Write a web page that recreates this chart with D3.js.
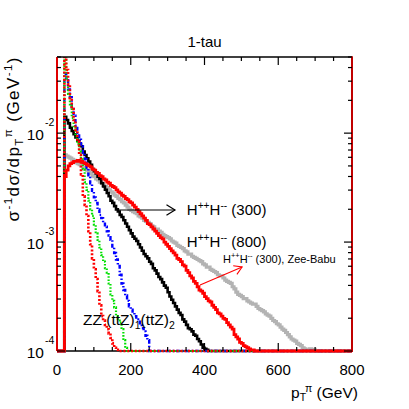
<!DOCTYPE html>
<html><head><meta charset="utf-8">
<script src="https://cdn.jsdelivr.net/npm/d3@7"></script>
<style>
body{margin:0;background:#fff}
svg{display:block}
text{font-family:"Liberation Sans",Arial,Helvetica,sans-serif;fill:#000}
</style>
</head><body><div id="chart"></div>
<script>
// ---------- DATA: log10 of (1/sigma dsigma/dpT) in GeV^-1, histogram bins ----------
const xTicksMajor = [0, 200, 400, 600, 800];
const yTickExps = [-4, -3, -2];

// H++H-- (300), black, 5 GeV bins from 20 GeV
const blackStart = 20, blackWidth = 5;
const blackLog10 = [
 -1.85,-1.88,-1.91,-1.95,-1.98,-2.01,-2.04,-2.07,-2.10,-2.12,
 -2.17,-2.20,-2.23,-2.26,-2.29,-2.33,-2.35,-2.37,-2.40,-2.42,
 -2.46,-2.49,-2.52,-2.55,-2.58,-2.62,-2.64,-2.67,-2.70,-2.72,
 -2.75,-2.77,-2.80,-2.83,-2.86,-2.89,-2.92,-2.95,-2.97,-2.99,
 -3.02,-3.05,-3.08,-3.11,-3.13,-3.15,-3.18,-3.20,-3.24,-3.26,
 -3.29,-3.32,-3.34,-3.37,-3.40,-3.42,-3.46,-3.50,-3.53,-3.56,
 -3.59,-3.62,-3.65,-3.67,-3.71,-3.73,-3.76,-3.79,-3.80,-3.82,
 -3.85,-3.86,-3.89,-3.91,-3.94,-3.97,-3.98,-3.99];

// H++H-- (300), Zee-Babu, red solid
const redStart = 20, redWidth = 5;
const redLog10 = [
 -2.40,-2.34,-2.30,-2.28,-2.27,-2.26,-2.26,-2.25,-2.26,-2.26,
 -2.27,-2.28,-2.29,-2.30,-2.31,-2.33,-2.34,-2.36,-2.37,-2.39,
 -2.40,-2.42,-2.43,-2.45,-2.46,-2.48,-2.49,-2.50,-2.52,-2.54,
 -2.55,-2.57,-2.58,-2.60,-2.61,-2.63,-2.64,-2.66,-2.68,-2.70,
 -2.72,-2.74,-2.76,-2.78,-2.80,-2.83,-2.84,-2.86,-2.88,-2.90,
 -2.92,-2.94,-2.96,-2.97,-3.00,-3.02,-3.04,-3.06,-3.08,-3.10,
 -3.12,-3.15,-3.16,-3.18,-3.21,-3.22,-3.26,-3.28,-3.31,-3.33,
 -3.36,-3.38,-3.41,-3.44,-3.45,-3.47,-3.50,-3.52,-3.54,-3.55,
 -3.58,-3.60,-3.62,-3.65,-3.66,-3.68,-3.70,-3.71,-3.74,-3.76,
 -3.78,-3.80,-3.85,-3.87,-3.89,-3.92,-3.93,-3.95,-3.96,-3.97,
 -3.98,-3.99,-3.99];

// H++H-- (800), gray
const grayStart = 20, grayWidth = 5;
const grayLog10 = [
 -2.20,-2.21,-2.22,-2.23,-2.24,-2.25,-2.27,-2.28,-2.29,-2.30,
 -2.31,-2.33,-2.34,-2.36,-2.37,-2.39,-2.40,-2.42,-2.43,-2.45,
 -2.46,-2.48,-2.49,-2.50,-2.52,-2.54,-2.55,-2.57,-2.58,-2.60,
 -2.61,-2.63,-2.64,-2.66,-2.68,-2.70,-2.71,-2.72,-2.73,-2.74,
 -2.76,-2.77,-2.78,-2.80,-2.81,-2.82,-2.83,-2.85,-2.86,-2.88,
 -2.88,-2.90,-2.91,-2.93,-2.94,-2.95,-2.96,-2.97,-2.99,-3.00,
 -3.01,-3.03,-3.04,-3.05,-3.06,-3.08,-3.09,-3.11,-3.11,-3.13,
 -3.14,-3.15,-3.16,-3.17,-3.18,-3.20,-3.21,-3.23,-3.23,-3.25,
 -3.26,-3.27,-3.28,-3.30,-3.31,-3.31,-3.33,-3.35,-3.36,-3.37,
 -3.38,-3.41,-3.43,-3.46,-3.48,-3.49,-3.50,-3.52,-3.52,-3.54,
 -3.55,-3.56,-3.57,-3.57,-3.59,-3.61,-3.62,-3.63,-3.64,-3.66,
 -3.67,-3.68,-3.70,-3.72,-3.73,-3.75,-3.76,-3.78,-3.80,-3.81,
 -3.83,-3.85,-3.87,-3.89,-3.90,-3.91,-3.93,-3.94,-3.95,-3.97,
 -3.98,-3.99,-3.99,-3.98,-3.99,-3.985];

// ZZ, red dotted
const zzStart = 20, zzWidth = 5;
const zzLog10 = [-1.27,-1.42,-1.55,-1.68,-1.78,-1.88,-1.97,-2.08,-2.20,-2.38,-2.58,-2.66,-2.76,-2.90,-3.02,
 -3.15,-3.25,-3.34,-3.45,-3.58,-3.68,-3.72,-3.76,-3.80,-3.84,-3.88,-3.93,-3.97,-3.99];

// (ttZ)1, green dotted
const ttz1Start = 20, ttz1Width = 5;
const ttz1Log10 = [-1.25,-1.50,-1.64,-1.75,-1.86,-1.95,-2.03,-2.10,-2.17,-2.24,-2.33,-2.45,-2.52,-2.62,-2.70,
 -2.76,-2.84,-2.92,-2.98,-3.05,-3.12,-3.18,-3.24,-3.28,-3.38,-3.48,-3.54,-3.60,-3.68,-3.72,-3.74,-3.80,-3.90,-3.97];

// (ttZ)2, blue dash-dot
const ttz2Start = 20, ttz2Width = 5;
const ttz2Log10 = [-1.45,-1.50,-1.60,-1.67,-1.76,-1.84,-1.93,-2.00,-2.06,-2.12,-2.18,-2.24,-2.32,-2.40,-2.46,
 -2.53,-2.59,-2.64,-2.70,-2.75,-2.78,-2.82,-2.86,-2.90,-2.94,-2.98,-3.04,-3.10,-3.16,-3.22,-3.30,-3.38,-3.44,
 -3.49,-3.54,-3.59,-3.62,-3.65,-3.68,-3.71,-3.73,-3.76,-3.79,-3.82,-3.86,-3.90];

// ---------- CHART ----------
const W = 409, H = 409;
const x = d3.scaleLinear().domain([0, 800]).range([57, 352]);
const y = d3.scaleLog().domain([1e-4, 0.05]).range([351, 57]);
const yMin = 1e-4;

const svg = d3.select("#chart").append("svg").attr("width", W).attr("height", H);
svg.append("rect").attr("width", W).attr("height", H).attr("fill", "#fff");

svg.append("defs").append("clipPath").attr("id", "clip")
  .append("rect").attr("x", x(0) - 1).attr("y", y(0.05))
  .attr("width", x(800) - x(0) + 2).attr("height", y(yMin) - y(0.05) + 2);

// bottom axis line
svg.append("line").attr("x1", x(0)).attr("x2", x(800)).attr("y1", y(yMin)).attr("y2", y(yMin))
  .attr("stroke", "#000").attr("stroke-width", 1.5);

function histPoints(start, width, logs) {
  const pts = [[0, 0]];
  logs.forEach((lv, i) => pts.push([start + i * width, Math.pow(10, lv)]));
  pts.push([start + logs.length * width, 0]);
  pts.push([800, 0]);
  return pts;
}
const line = d3.line()
  .x(d => x(d[0]))
  .y(d => d[1] > 0 ? y(Math.max(d[1], yMin)) : y(yMin))
  .curve(d3.curveStepAfter);

const series = [
  {s: grayStart, w: grayWidth, v: grayLog10, color: "#b3b3b3", width: 3.2, dash: null},
  {s: blackStart, w: blackWidth, v: blackLog10, color: "#000", width: 2.6, dash: null},
  {s: ttz2Start, w: ttz2Width, v: ttz2Log10, color: "#0000ff", width: 2.4, dash: "4,2,1.5,2"},
  {s: ttz1Start, w: ttz1Width, v: ttz1Log10, color: "#00e000", width: 2.2, dash: "1.6,1.6"},
  {s: zzStart, w: zzWidth, v: zzLog10, color: "#ff0000", width: 2.6, dash: "2,1.8"},
  {s: redStart, w: redWidth, v: redLog10, color: "#ff0000", width: 2.8, dash: null}
];
const g = svg.append("g").attr("clip-path", "url(#clip)");
series.forEach(sr => {
  g.append("path").attr("d", line(histPoints(sr.s, sr.w, sr.v)))
    .attr("fill", "none").attr("stroke", sr.color).attr("stroke-width", sr.width)
    .attr("stroke-dasharray", sr.dash).attr("stroke-linejoin", "miter");
});

// frame
svg.append("line").attr("x1", x(0)).attr("x2", x(800)).attr("y1", y(0.05)).attr("y2", y(0.05))
  .attr("stroke", "#000").attr("stroke-width", 1.5);
svg.append("line").attr("x1", x(0)).attr("x2", x(0)).attr("y1", y(0.05)).attr("y2", y(yMin))
  .attr("stroke", "#e00000").attr("stroke-width", 2);
svg.append("line").attr("x1", x(800)).attr("x2", x(800)).attr("y1", y(0.05) - 0.7).attr("y2", y(yMin) + 1)
  .attr("stroke", "#c00000").attr("stroke-width", 2);

// ticks
const ticks = svg.append("g").attr("stroke", "#000").attr("stroke-width", 1.2);
d3.range(50, 800, 50).forEach(p => {
  const len = (p % 200 === 0) ? 8 : 4;
  ticks.append("line").attr("x1", x(p)).attr("x2", x(p)).attr("y1", y(yMin)).attr("y2", y(yMin) - len);
  ticks.append("line").attr("x1", x(p)).attr("x2", x(p)).attr("y1", y(0.05)).attr("y2", y(0.05) + len);
});
yTickExps.forEach(e => {
  for (let k = 1; k <= 9; k++) {
    const v = k * Math.pow(10, e);
    if (v < yMin || v > 0.05) continue;
    const len = k === 1 ? 8 : 4;
    ticks.append("line").attr("x1", x(0)).attr("x2", x(0) + len).attr("y1", y(v)).attr("y2", y(v));
    ticks.append("line").attr("x1", x(800)).attr("x2", x(800) - len).attr("y1", y(v)).attr("y2", y(v));
  }
});

// tick labels
xTicksMajor.forEach(p => {
  svg.append("text").attr("x", x(p)).attr("y", 375).attr("text-anchor", "middle")
    .attr("font-size", 15).text(p);
});
yTickExps.forEach(e => {
  svg.append("text").attr("x", 44).attr("y", y(Math.pow(10, e)) + 7)
    .attr("text-anchor", "end").attr("font-size", 15.5).text("10");
  svg.append("text").attr("x", 45).attr("y", y(Math.pow(10, e)) - 7)
    .attr("font-size", 10.5).text(String(e));
});

// title
svg.append("text").attr("x", (x(0) + x(800)) / 2).attr("y", 47).attr("text-anchor", "middle")
  .attr("font-size", 15).text("1-tau");

// x title
const xt = svg.append("text").attr("x", 291).attr("y", 398).attr("font-size", 15.5);
xt.append("tspan").text("p");
xt.append("tspan").attr("font-size", 10.5).attr("dy", 3).text("T");
xt.append("tspan").attr("font-size", 10.5).attr("dx", -1).attr("dy", -9).text("π");
xt.append("tspan").attr("dy", 6).text(" (GeV)");

// y title
const yt = svg.append("text").attr("transform", "translate(19,139.5) rotate(-90)")
  .attr("text-anchor", "middle").attr("font-size", 17)
  .attr("textLength", 164).attr("lengthAdjust", "spacing");
yt.append("tspan").text("σ");
yt.append("tspan").attr("font-size", 11.5).attr("dy", -7).text("-1");
yt.append("tspan").attr("dy", 7).text("dσ/dp");
yt.append("tspan").attr("font-size", 11.5).attr("dy", 4).text("T");
yt.append("tspan").attr("font-size", 11.5).attr("dy", -11).text("π");
yt.append("tspan").attr("dy", 7).text(" (GeV");
yt.append("tspan").attr("font-size", 11.5).attr("dy", -7).text("-1");
yt.append("tspan").attr("dy", 7).text(")");

// annotations (data coordinates)
function hhLabel(px, pv, size, suffix) {
  const t = svg.append("text").attr("x", x(px)).attr("y", y(pv)).attr("font-size", size);
  const sup = size * 0.68, shift = size * 0.42;
  t.append("tspan").text("H");
  t.append("tspan").attr("font-size", sup).attr("dy", -shift).text("++");
  t.append("tspan").attr("dy", shift).text("H");
  t.append("tspan").attr("font-size", sup).attr("dy", -shift).text("--");
  t.append("tspan").attr("dy", shift).text(suffix);
}
hhLabel(352, 1.77e-3, 15, " (300)");
hhLabel(352, 9.0e-4, 15, " (800)");
hhLabel(450, 6.43e-4, 11, " (300), Zee-Babu");

function arrow(p1, v1, p2, v2, color, w, head) {
  const x1 = x(p1), y1 = y(v1), x2 = x(p2), y2 = y(v2);
  const a = Math.atan2(y2 - y1, x2 - x1);
  const ga = svg.append("g").attr("stroke", color).attr("stroke-width", w).attr("fill", "none");
  ga.append("line").attr("x1", x1).attr("y1", y1).attr("x2", x2).attr("y2", y2);
  const pts = [[x2 - head * Math.cos(a - 0.55), y2 - head * Math.sin(a - 0.55)], [x2, y2],
               [x2 - head * Math.cos(a + 0.55), y2 - head * Math.sin(a + 0.55)]];
  ga.append("path").attr("d", d3.line()(pts));
}
arrow(163, 1.97e-3, 320, 1.97e-3, "#000", 1.2, 10);
arrow(388, 4.04e-4, 502, 5.9e-4, "#ff0000", 1.1, 9);

// background labels
const bt = svg.append("text").attr("x", x(70.5)).attr("y", y(1.73e-4)).attr("font-size", 15.5);
bt.append("tspan").text("ZZ (ttZ)");
bt.append("tspan").attr("font-size", 10.5).attr("dy", 4).text("1");
bt.append("tspan").attr("dy", -4).text("(ttZ)");
bt.append("tspan").attr("font-size", 10.5).attr("dy", 4).text("2");
</script>
</body></html>
